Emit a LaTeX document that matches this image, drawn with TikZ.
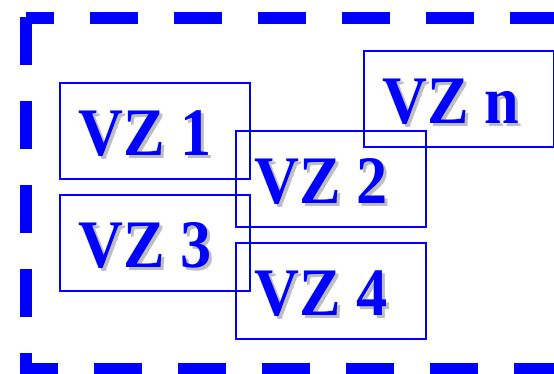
\documentclass[tikz,border=0pt]{standalone}
\usepackage{fontspec}
\setmainfont{Liberation Serif}
\usetikzlibrary{calc, positioning}
\definecolor{ZoneBlue}{RGB}{0,0,255}
\definecolor{shadowgrey}{RGB}{190,190,190}

\begin{document}
\begin{tikzpicture}[x=1pt, y=-1pt,
  zonebox/.style={draw=ZoneBlue, line width=2pt, minimum width=190pt,
                  minimum height=96pt, inner sep=0pt, anchor=north west},
  zonetxt/.style={font=\fontsize{68}{68}\selectfont\bfseries, xscale=0.915,
                  inner sep=0pt, anchor=base west}]
  \useasboundingbox (0,0) rectangle (554,374);
  % dashed frame
  \draw[ZoneBlue, line width=12pt, dash pattern=on 48pt off 36pt, dash phase=20.5pt]
    (26,18) -- (580,18);
  \draw[ZoneBlue, line width=12pt, dash pattern=on 48pt off 36pt]
    (26,17) -- (26,380);
  \draw[ZoneBlue, line width=12pt, dash pattern=on 48pt off 36pt, dash phase=10pt]
    (20,369) -- (580,369);
  % zones
  \foreach \n/\x/\y in {1/59/82, 2/235/130, n/363/50, 3/59/194, 4/235/242} {
    \node[zonebox] (vz\n) at (\x,\y) {};
    \node[zonetxt, shadowgrey] at ($(vz\n.north west)+(22.5,76.5)$) {VZ \n};
    \node[zonetxt, ZoneBlue] (t\n) at ($(vz\n.north west)+(19.5,73.5)$) {VZ \n};
  }
\end{tikzpicture}
\end{document}
